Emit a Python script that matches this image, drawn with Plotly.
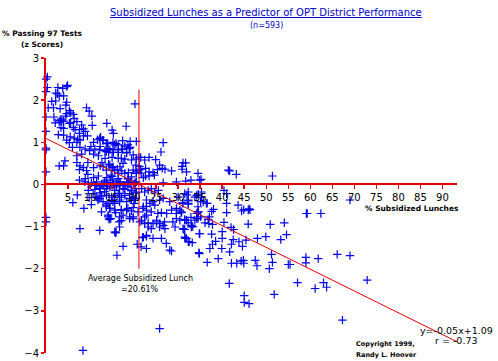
import plotly.graph_objects as go

# (% subsidized lunch, z score of % passing), grouped by region
pts_upper_left = [
    (0, 2.50), (0.3, 2.55), (0.3, 2.3), (0, 2.2), (2.7, 2.3), (3.8, 2.28), (4.7, 2.32), (4.9, 2.35),
    (2.2, 2.17), (2.6, 2.15), (3, 2.1), (4, 2.1), (1.3, 1.97), (2.2, 1.98), (4.7, 1.95), (4.5, 1.88),
    (0, 1.6), (0.5, 1.82), (1.7, 1.82), (3.2, 1.8), (5.3, 1.75), (4.7, 1.68), (5.6, 1.7), (6.2, 1.66),
    (6.4, 1.56), (4.5, 1.62), (3.4, 1.55), (3.6, 1.5), (3.2, 1.52), (4, 1.5), (3, 1.48), (1.8, 1.6),
    (2.1, 1.46), (4, 1.33), (3.4, 1.35), (5.3, 1.45), (5.6, 1.46), (7, 1.49), (8.1, 1.41), (9.2, 1.82),
    (9.8, 1.74), (10.4, 1.62), (6.2, 1.35), (6.6, 1.3), (7.6, 1.3), (8.5, 1.32), (8.9, 1.26), (10.5, 1.4),
    (13.8, 1.45), (18.2, 1.38), (15, 1.29), (15.3, 1.21), (0, 1.26), (2.8, 1.18), (4, 1.17), (5.5, 1.13),
    (6.4, 1.1), (7.6, 1.21), (7.2, 1.07), (7.7, 1.05), (8.5, 1.15), (9.4, 1.15), (10.8, 1.0), (11.7, 1.06),
    (12.4, 1.12), (12.9, 1.05), (14, 0.97), (15.2, 1.0), (15.9, 0.97), (17.4, 1.04), (19.1, 1.02),
    (20.5, 1.02), (0, 0.86), (0, 0.82), (4.7, 1.05), (5.3, 0.99), (7, 1.0), (7.7, 0.88), (6, 0.88),
    (8.9, 0.84), (10.2, 0.9), (9.9, 0.8), (11.1, 0.84), (12.3, 0.9), (13.4, 0.8), (14.2, 0.76),
    (15.3, 0.76), (16.4, 0.76), (17.2, 0.84), (18.3, 0.76), (19.1, 0.88), (20.5, 0.6), (17.9, 0.6),
    (16.4, 0.62), (15, 0.64), (13.4, 0.62), (11.9, 0.68), (10.8, 0.72), (8.1, 0.72), (7, 0.68),
    (4.3, 0.56), (3, 0.44), (4, 0.44), (7, 0.52), (7.7, 0.44), (7.6, 0.35), (8.5, 0.4), (9.5, 0.52),
    (9.2, 0.33), (0, 0.3), (10.8, 0.4), (12.3, 0.44), (12.7, 0.52), (14.2, 0.48), (15, 0.4), (16.2, 0.36),
    (17.2, 0.32), (18.7, 0.28), (20.5, 0.3), (7.6, 0.1), (8.9, 0.14), (9.5, 0.24), (10.8, 0.16),
    (11.9, 0.2), (13.8, 0.16), (15, 0.19), (16.4, 0.14), (14.6, 0.05), (16.8, 0.03), (18.7, 0.13),
    (19.3, 0.05), (20.2, 0.03), (20.2, 1.91),
]

pts_center_above = [
    (26.6, 0.99), (26.1, 0.77), (21.1, 0.64), (21.5, 0.64), (23.4, 0.64), (22.4, 0.58), (24.9, 0.59),
    (31.1, 0.51), (31.7, 0.51), (30.9, 0.43), (30.9, 0.36), (25.8, 0.46), (26.4, 0.38), (27, 0.36),
    (28.5, 0.32), (25.3, 0.35), (24.3, 0.28), (23.4, 0.2), (24.6, 0.22), (26.6, 0.04), (29.6, 0.06),
    (31.7, 0.08), (34.5, 0.26), (35.2, 0.12), (41.4, 0.34), (22.1, 0.16), (22.6, 0.2), (21.5, 0.36),
    (21.2, 0.43), (21.6, 0.27), (22.6, 0.38), (23.4, 0.3),
    (12.2, 1.09), (12.96, 1.05), (13.7, 0.98), (14.1, 0.85), (14.5, 0.82), (12.2, 0.82), (13.7, 0.78),
    (15.2, 0.83), (15.6, 0.94), (16.4, 0.82), (16.4, 0.94), (17.4, 0.83), (17.9, 0.91), (18.3, 0.75),
    (18.6, 0.94), (18.9, 0.85), (19.8, 0.70), (19.4, 0.58), (20.4, 0.46), (17.1, 0.62), (17.5, 0.50),
    (16.8, 0.42), (14.5, 0.46), (15.2, 0.42), (15.6, 0.34), (12.96, 0.42), (13.7, 0.34), (14.8, 0.22),
    (16.4, 0.26), (17.9, 0.26), (18.6, 0.14), (19.4, 0.18), (19.8, 0.34), (20.5, 0.26), (21.1, 0.34),
    (20.2, 0.04), (19.0, 0.02), (18.3, 0.06), (16.8, 0.06), (15.2, 0.1), (13.7, 0.1), (16.0, -0.02),
    (31.9, 0.3), (51.4, 0.2), (41.7, 0.32), (43.2, 0.24), (34.9, 0.1), (32.9, 0.1),
]

pts_center_below = [
    (11.4, -0.02), (12.2, -0.06), (12.96, -0.02), (13.7, -0.1), (14.5, -0.06), (15.2, -0.02),
    (16.0, -0.06), (16.7, -0.02), (17.5, -0.1), (18.6, -0.06), (19.4, -0.14), (20.2, -0.1), (20.5, -0.18),
    (11.4, -0.3), (12.2, -0.33), (12.6, -0.28), (13.7, -0.26), (14.9, -0.3), (15.6, -0.26), (16.4, -0.22),
    (17.1, -0.3), (17.9, -0.26), (19.0, -0.22), (19.8, -0.3), (20.3, -0.33),
    (11.8, -0.37), (12.96, -0.41), (14.1, -0.45), (15.2, -0.41), (16.7, -0.37), (18.3, -0.41),
    (19.4, -0.37), (20.0, -0.45), (13.7, -0.53), (14.5, -0.57), (15.6, -0.61), (17.1, -0.6),
    (18.6, -0.57), (19.8, -0.55), (12.6, -0.65), (14.1, -0.77), (14.5, -0.81), (16.7, -0.77),
    (17.5, -0.73), (19.0, -0.81), (19.8, -0.77), (16.7, -1.01), (15.6, -1.13), (12.2, -1.09),
    (22.1, -1.25), (22.8, -1.21),
    (21.7, -0.1), (22.4, -0.18), (23.2, -0.14), (23.9, -0.1), (24.7, -0.18), (25.5, -0.14), (22.8, -0.37),
    (23.6, -0.45), (24.3, -0.41), (22.1, -0.53), (22.8, -0.61), (22.4, -0.77), (21.7, -0.85), (23.2, -1.01),
    (25.1, -0.85), (25.8, -0.93), (26.6, -0.97), (27.0, -1.05), (26.2, -1.28), (24.3, -1.28), (27.4, -0.69),
    (28.5, -0.61), (29.6, -0.81), (29.3, -1.01), (31.1, -1.05), (31.9, -0.85), (33.0, -1.01), (33.8, -0.85),
    (34.5, -0.81), (31.1, -0.45), (32.3, -0.37), (33.8, -0.3), (34.5, -0.65), (35.7, -0.41), (35.3, -0.3),
    (29.6, -0.57), (31.5, -1.25), (26.6, -0.33), (25.8, -0.37), (28.1, -0.41), (30.0, -0.3), (32.3, -0.18),
    (34.2, -0.26), (35.3, -0.18),
]

pts_left_below = [
    (0, -0.78), (0, -0.89), (6.1, -0.43), (7.1, -0.25), (8.6, -0.57), (7.7, -1.05), (9.8, -0.31),
    (10.3, -0.48), (10.7, -0.22), (11.8, -0.33), (12.3, -0.2), (13.7, -0.49), (14.5, -0.57), (14.1, -0.73),
    (14.7, -0.81), (14.3, -0.83), (15.8, -0.67), (17.1, -0.61), (16.6, -0.89), (17.1, -0.86), (15.8, -1.15),
    (17.5, -1.47), (16.1, -1.68), (19, -0.77), (19.8, -0.81), (20.7, -1.42), (18.3, -0.61), (19.4, -0.63),
    (20.9, -0.65), (14.9, -0.37), (15.6, -0.45), (16.7, -0.41), (19, -0.33), (20.2, -0.37),
    (8.8, 0.06), (9.6, 0.02), (10.3, 0.04), (11.1, -0.02), (11.5, 0.06), (12.6, 0.007), (13.3, 0.06),
    (13.9, -0.04), (15.2, 0.02), (16.1, 0.06), (17.5, -0.02), (18.6, 0.04), (19.8, 0.007), (20.5, 0.06),
    (9.6, -0.14), (11.1, -0.12), (12.2, -0.1), (13.3, -0.17), (15.6, -0.14), (16.7, -0.21), (17.9, -0.12),
    (19.4, -0.15), (20.5, -0.2), (8.4, -3.94),
]

pts_mid_below = [
    (25.8, -3.42), (21.6, -1.48), (22.8, -1.52), (21.9, -1.26), (22.8, -1.23), (23.9, -1.05), (27.3, -1.4),
    (28.1, -1.56), (28.5, -1.58), (31.9, -1.28), (32.5, -1.36), (34.7, -1.62), (15.9, -1.13), (21.3, -0.89),
    (22.4, -0.93), (23.2, -0.91), (24.3, -0.93), (25.1, -0.89), (25.8, -1.01), (26.9, -0.89), (28.8, -0.89),
    (30.4, -0.85), (31.5, -0.83), (33, -0.97), (34.9, -1.17), (31.5, -1.07), (22.8, -0.73), (23.9, -0.65),
    (25.4, -0.69), (26.2, -0.67), (29.6, -0.69), (30.7, -0.65), (34.2, -0.69), (22, -0.57), (22.8, -0.52),
    (24.7, -0.49), (30.4, -0.61), (32.3, -0.47), (34.5, -0.53),
    (32, -0.25), (32.3, -0.45), (32.3, -0.39), (34.6, -0.23), (35.1, -0.41), (36.4, -0.45), (38, -0.59),
    (37.6, -0.64), (34.6, -0.65), (35.1, -0.77), (34.2, -0.81), (30.8, -0.67), (32.9, -0.78), (31.5, -0.85),
    (32.3, -0.91), (33.3, -1.0), (31.3, -1.07), (36.8, -0.83), (37, -0.93), (36.1, -0.91), (37.8, -0.95),
    (40.4, -0.9), (41, -0.45), (41, -0.67), (43.6, -0.49), (44.4, -0.63), (45.9, -0.61), (46.3, -0.6),
    (45.9, -0.94), (42, -1.02), (42.6, -1.07), (40, -1.12), (37.6, -1.18), (40, -1.28), (38.5, -1.35),
    (37.8, -1.42), (31.6, -1.28), (32.3, -1.36), (33.2, -1.38), (34.8, -1.17), (34.8, -1.64), (37.2, -1.52),
    (39.9, -1.52), (41.7, -1.6), (42.1, -1.42), (43.8, -1.36), (42.5, -1.31), (44.6, -1.47), (45.4, -1.32),
    (48, -1.28), (49.9, -1.24), (50.9, -0.95), (54.1, -0.91), (54.6, -1.19), (53.3, -1.31), (51.2, -1.66),
    (51.4, -1.85), (50.7, -2.0), (47.5, -1.8), (47.9, -1.93), (44.8, -1.8), (44.3, -1.82), (43.3, -1.87),
    (42.1, -1.87), (44.9, -1.87), (39.1, -1.76), (36.6, -1.85), (41.6, -2.35), (45, -2.64), (45, -2.8),
    (46.1, -2.83), (51.8, -2.61), (57.1, -2.33), (55, -1.9), (55.4, -1.9), (31, -0.44), (31.5, -0.22),
    (40.4, -0.14), (41, -0.22), (44.9, -0.6), (46.1, -0.58), (36.6, -0.45), (37.1, -0.77),
]

pts_right = [
    (69, -0.37), (59.3, -0.69), (62.4, -0.69), (59.1, -0.69), (59, -1.73), (59, -1.86), (61.8, -1.76),
    (66.1, -1.66), (69, -1.69), (63, -2.33), (61.1, -2.47), (63.7, -2.44), (72.9, -2.27), (67.3, -3.22),
]

groups = [pts_upper_left, pts_center_above, pts_center_below, pts_left_below, pts_mid_below, pts_right]
lunch_pct = [p[0] for g in groups for p in g]
z_score = [p[1] for g in groups for p in g]

reg_intercept = 1.09
reg_slope = -0.0517
reg_x = [0, 93.3]
avg_line_x = 21.1
avg_line_y = [-2.0, 2.25]
x_range = [0, 93.3]
y_range = [-4, 3]
x_ticks = list(range(5, 95, 5))
y_ticks = list(range(-4, 4))

W, H = 498, 361
ML, MR, MT, MB = 46, 41, 58, 8
RED = '#e00000'
BLUE = '#0000ee'


def px(xp):
    return (xp - ML) / (W - ML - MR)


def py(yp):
    return (H - MB - yp) / (H - MT - MB)


fig = go.Figure()
fig.add_trace(go.Scatter(
    x=lunch_pct, y=z_score, mode='markers', cliponaxis=False, hoverinfo='skip',
    marker=dict(symbol='cross-thin', size=6, line=dict(width=1.2, color=BLUE)),
))
fig.add_trace(go.Scatter(
    x=reg_x, y=[reg_intercept + reg_slope * v for v in reg_x], mode='lines', hoverinfo='skip',
    line=dict(color=RED, width=1),
))
fig.add_trace(go.Scatter(
    x=[avg_line_x, avg_line_x], y=avg_line_y, mode='lines', hoverinfo='skip',
    line=dict(color=RED, width=1),
))

tickfont = dict(family='DejaVu Sans', size=10, color='black')
lab = dict(family='DejaVu Sans', size=7.5, color='black')


def ann(text, x, y, font, xanchor='center'):
    fig.add_annotation(text=text, x=px(x), y=py(y), xref='paper', yref='paper',
                       showarrow=False, font=font, xanchor=xanchor, yanchor='middle')


ann('<u>Subsidized Lunches as a Predictor of OPT District Performance</u>', 266, 13,
    dict(family='DejaVu Sans', size=10, color='#0000cc'))
ann('(n=593)', 266, 26, dict(family='DejaVu Sans', size=8, color='#0000cc'))
ann('<b>% Passing 97 Tests</b>', 42, 34, lab)
ann('<b>(z Scores)</b>', 42, 44, lab)
ann('<b>% Subsidized Lunches</b>', 412, 209, lab)
ann('Average Subsidized Lunch', 140, 278, dict(family='DejaVu Sans', size=8, color='black'))
ann('=20.61%', 140, 289, dict(family='DejaVu Sans', size=8, color='black'))
ann('y=-0.05x+1.09', 456, 330, dict(family='DejaVu Sans', size=9.5, color='black'))
ann('r = -0.73', 456, 340, dict(family='DejaVu Sans', size=9.5, color='black'))
ann('<b>Copyright 1999,</b>', 354, 344, dict(family='DejaVu Sans', size=6.5, color='black'), 'left')
ann('<b>Randy L. Hoover</b>', 354, 355, dict(family='DejaVu Sans', size=6.5, color='black'), 'left')

fig.update_layout(
    width=W, height=H, margin=dict(l=ML, r=MR, t=MT, b=MB, autoexpand=False),
    paper_bgcolor='white', plot_bgcolor='white', showlegend=False, hovermode=False,
    xaxis=dict(range=x_range, anchor='free', position=4 / 7, showline=True, linecolor=RED,
               linewidth=2, ticks='outside', ticklen=4, tickwidth=1.5, tickcolor=RED,
               tickvals=x_ticks, showgrid=False, zeroline=False, tickfont=tickfont,
               automargin=False),
    yaxis=dict(range=y_range, showline=True, linecolor=RED, linewidth=2, ticks='outside',
               ticklen=3, tickwidth=1.5, tickcolor=RED, tickvals=y_ticks, showgrid=False,
               zeroline=False, tickfont=tickfont, automargin=False),
)

fig.write_html('out.html', config={'displayModeBar': False, 'staticPlot': True},
               post_script="document.body.style.margin='0';document.body.style.overflow='hidden';")
